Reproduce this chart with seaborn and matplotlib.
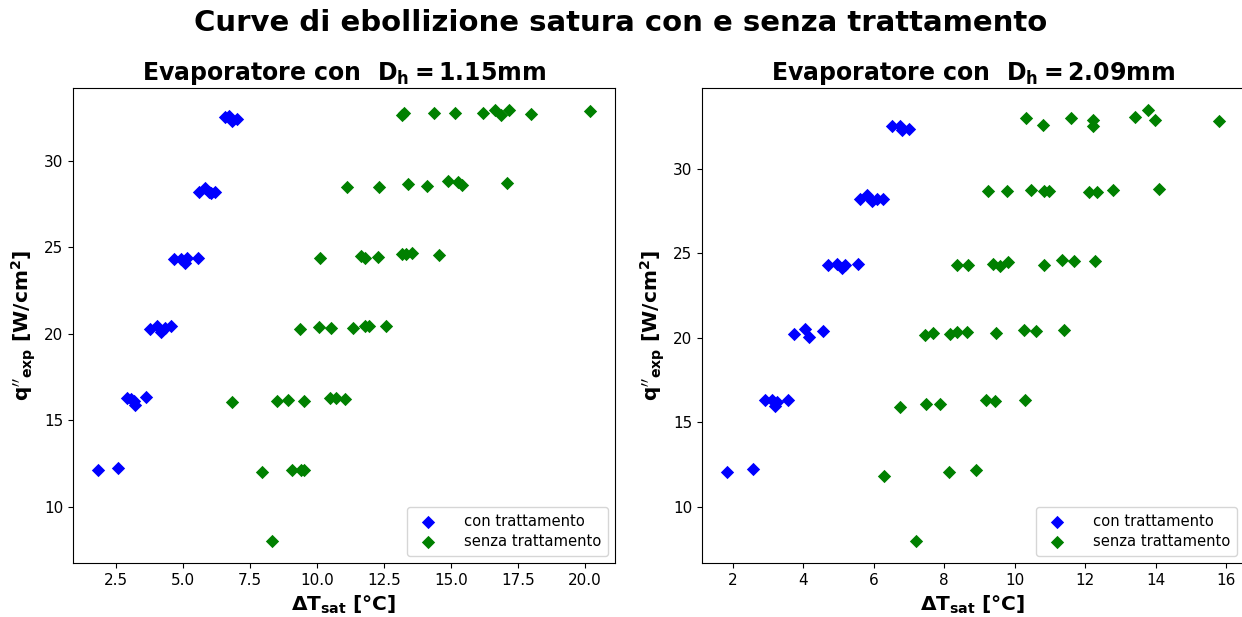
import matplotlib
matplotlib.use("Agg")
import matplotlib.pyplot as plt
import seaborn as sns
import pandas as pd

# --- Evaporatore D_h = 1.15 mm ---
dt_con_115 = [1.80, 2.55,
              2.90, 3.05, 3.15, 3.20, 3.60,
              3.75, 4.00, 4.15, 4.30, 4.55,
              4.65, 4.90, 5.05, 5.15, 5.55,
              5.60, 5.80, 5.95, 6.05, 6.20,
              6.55, 6.70, 6.80, 7.00]
q_con_115 = [12.10, 12.25,
             16.30, 16.20, 16.10, 15.90, 16.35,
             20.25, 20.45, 20.10, 20.30, 20.45,
             24.30, 24.30, 24.10, 24.35, 24.40,
             28.20, 28.40, 28.20, 28.10, 28.20,
             32.50, 32.60, 32.30, 32.40]

dt_senza_115 = [8.30,
                7.95, 9.05, 9.40, 9.50,
                6.82, 8.51, 8.91, 9.51, 10.48, 10.69, 11.04,
                9.35, 10.05, 10.50, 11.35, 11.80, 11.95, 12.55,
                10.10, 11.65, 11.80, 12.25, 13.15, 13.30, 13.55, 14.55,
                11.10, 12.30, 13.40, 14.10, 14.90, 15.25, 15.40, 17.10,
                13.15, 13.25, 14.35, 15.15, 16.20, 16.65, 16.85, 17.15, 18.00, 20.20]
q_senza_115 = [8.00,
               12.00, 12.15, 12.10, 12.15,
               16.05, 16.14, 16.18, 16.14, 16.30, 16.28, 16.24,
               20.25, 20.40, 20.35, 20.35, 20.45, 20.45, 20.45,
               24.40, 24.50, 24.40, 24.45, 24.60, 24.60, 24.65, 24.55,
               28.45, 28.50, 28.65, 28.55, 28.80, 28.75, 28.60, 28.70,
               32.65, 32.75, 32.75, 32.75, 32.75, 32.90, 32.65, 32.95, 32.70, 32.85]

# --- Evaporatore D_h = 2.09 mm ---
dt_con_209 = [1.82, 2.58,
              2.91, 3.10, 3.19, 3.24, 3.57,
              3.74, 4.05, 4.17, 4.55,
              4.71, 4.95, 5.09, 5.18, 5.56,
              5.61, 5.80, 5.94, 6.08, 6.27,
              6.51, 6.74, 6.79, 7.01]
q_con_209 = [12.10, 12.25,
             16.30, 16.30, 16.00, 16.20, 16.35,
             20.25, 20.50, 20.05, 20.40,
             24.30, 24.35, 24.15, 24.30, 24.35,
             28.20, 28.45, 28.10, 28.20, 28.20,
             32.50, 32.55, 32.30, 32.35]

dt_senza_209 = [7.19,
                6.29, 8.14, 8.90,
                6.74, 7.47, 7.88, 9.19, 9.44, 10.30,
                7.45, 7.69, 8.16, 8.36, 8.64, 9.47, 10.27, 10.61, 11.41,
                8.37, 8.68, 9.38, 9.59, 9.82, 10.84, 11.34, 11.67, 12.28,
                9.25, 9.78, 10.46, 10.84, 10.96, 12.12, 12.35, 12.80, 14.11,
                10.32, 10.80, 11.60, 12.22, 12.22, 13.42, 13.77, 13.99, 15.81]
q_senza_209 = [7.97,
               11.85, 12.10, 12.20,
               15.90, 16.10, 16.10, 16.30, 16.25, 16.30,
               20.15, 20.30, 20.25, 20.35, 20.35, 20.30, 20.45, 20.40, 20.45,
               24.30, 24.30, 24.35, 24.25, 24.50, 24.30, 24.60, 24.55, 24.55,
               28.70, 28.70, 28.75, 28.70, 28.70, 28.65, 28.60, 28.75, 28.80,
               33.00, 32.60, 33.00, 32.90, 32.55, 33.05, 33.50, 32.90, 32.85]

diametri = ["1.15", "2.09"]
etichette = ["con trattamento", "senza trattamento"]
colori = {"con trattamento": "blue", "senza trattamento": "green"}


def tabella(dt_con, q_con, dt_senza, q_senza):
    con = pd.DataFrame({"dT": dt_con, "q": q_con, "serie": etichette[0]})
    senza = pd.DataFrame({"dT": dt_senza, "q": q_senza, "serie": etichette[1]})
    return con, senza


dati = [tabella(dt_con_115, q_con_115, dt_senza_115, q_senza_115),
        tabella(dt_con_209, q_con_209, dt_senza_209, q_senza_209)]

plt.rcParams["font.family"] = ["DejaVu Sans"]
plt.rcParams["mathtext.fontset"] = "dejavusans"

fig = plt.figure(figsize=(12.42, 6.17), dpi=100)
ax_left = fig.add_axes([0.0588, 0.0875, 0.4364, 0.770])
ax_right = fig.add_axes([0.5652, 0.0875, 0.4364, 0.770])

for ax, dh, (con, senza) in zip([ax_left, ax_right], diametri, dati):
    for df in (con, senza):
        sns.scatterplot(data=df, x="dT", y="q", ax=ax, marker="D", s=46,
                        color=colori[df["serie"].iloc[0]], linewidth=0,
                        label=df["serie"].iloc[0])
    ax.set_title(r"Evaporatore con  $\mathbf{D_h = " + dh + r"}$mm",
                 fontsize=17, fontweight="bold", pad=6)
    ax.set_xlabel(r"$\mathbf{\Delta T_{sat}}$ [°C]", fontsize=14.5,
                  fontweight="bold", labelpad=4)
    ax.set_ylabel(r"$\mathbf{q''_{exp}}$ [W/cm$\mathbf{^2}$]", fontsize=14.5,
                  fontweight="bold", labelpad=4)
    ax.tick_params(labelsize=11)
    ax.legend(loc="lower right", fontsize=10.6, handletextpad=1.4,
              borderpad=0.45, labelspacing=0.35)

fig.suptitle("Curve di ebollizione satura con e senza trattamento",
             fontsize=21, fontweight="bold", y=0.985)

fig.savefig("out.png", dpi=100)
